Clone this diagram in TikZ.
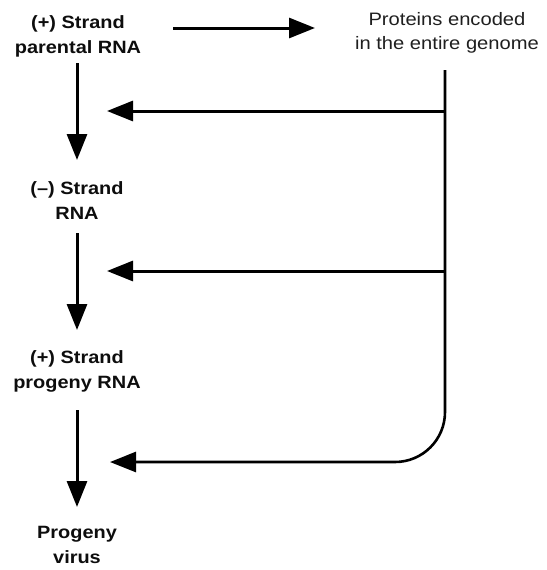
\documentclass[tikz,border=0pt]{standalone}
\usepackage{fontspec}
\setmainfont{Liberation Sans}[FakeStretch=1.12]
\usetikzlibrary{arrows.meta}
\begin{document}
\begin{tikzpicture}[x=1pt,y=-1pt,
  lbl/.style={inner sep=0pt, align=center, font=\fontsize{17.8}{25}\selectfont\bfseries, text=black!95},
  prot/.style={inner sep=0pt, align=center, font=\fontsize{18}{23.5}\selectfont, text=black!88},
  conn/.style={line width=3pt, -{Triangle[length=26pt,width=20pt]}},
  trunk/.style={line width=2.6pt}]
\useasboundingbox (0,0) rectangle (546,570);
\node[lbl] (pp) at (78,36) {(+) Strand\\parental RNA};
\node[lbl] (ms) at (77,201) {(–) Strand\\RNA};
\node[lbl] (pg) at (77,371) {(+) Strand\\progeny RNA};
\node[lbl] (vir) at (77,545) {Progeny\\virus};
\node[prot] (prot) at (447,33) {Proteins encoded\\in the entire genome};
% top arrow
\coordinate (a0) at (173,28);
\coordinate (a1) at (315,28);
\draw[conn] (a0) -- (a1);
% vertical arrows
\coordinate (v1a) at (77,63); \coordinate (v1b) at (77,160);
\coordinate (v2a) at (77,233); \coordinate (v2b) at (77,330);
\coordinate (v3a) at (77,410); \coordinate (v3b) at (77,507);
\draw[conn] (v1a) -- (v1b);
\draw[conn] (v2a) -- (v2b);
\draw[conn] (v3a) -- (v3b);
% trunk
\coordinate (t0) at (445,70);
\coordinate (j1) at (445,111);
\coordinate (j2) at (445,271);
\coordinate (h1) at (107,111);
\coordinate (h2) at (107,271);
\coordinate (h3) at (110,462);
\draw[trunk, rounded corners=50pt, -{Triangle[length=26pt,width=20pt]}] (t0) |- (h3);
\draw[conn] (j1) -- (h1);
\draw[conn] (j2) -- (h2);
\end{tikzpicture}
\end{document}
